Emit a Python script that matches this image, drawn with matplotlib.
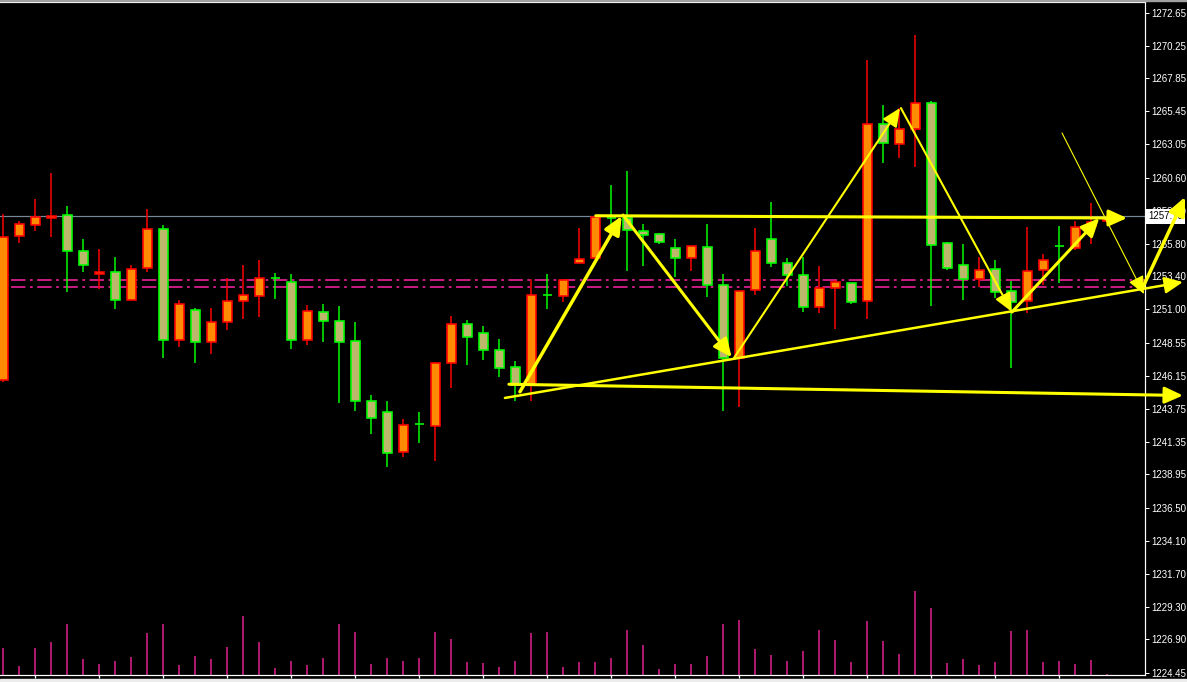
import numpy as np
import matplotlib
matplotlib.use("Agg")
import matplotlib.pyplot as plt
from matplotlib.patches import Rectangle, FancyArrowPatch, ArrowStyle
from matplotlib.transforms import blended_transform_factory

# OHLC (bar index = position from the left)
opens = [1245.85, 1256.33, 1257.13, 1257.64, 1257.86, 1255.23, 1253.55, 1253.70, 1251.66, 1253.99,
         1256.84, 1248.74, 1250.93, 1248.59, 1250.05, 1251.58, 1251.95, 1253.31, 1252.97, 1248.74,
         1250.78, 1250.12, 1248.67, 1244.29, 1243.48, 1240.56, 1242.63, 1242.46, 1247.06, 1249.91,
         1249.25, 1248.01, 1246.77, 1245.45, 1252.02, 1251.95, 1254.36, 1254.72, 1257.64, 1257.64,
         1256.72, 1256.48, 1255.45, 1254.72, 1255.53, 1252.75, 1247.42, 1252.39, 1256.11, 1254.36,
         1253.48, 1251.15, 1252.53, 1252.90, 1251.58, 1264.55, 1263.04, 1264.14, 1266.04, 1255.82,
         1254.21, 1253.19, 1253.92, 1252.31, 1251.58, 1253.85, 1255.64, 1255.45, 1257.06, 1257.45]
highs = [1257.96, 1257.45, 1259.05, 1260.95, 1258.54, 1256.13, 1255.40, 1254.82, 1254.23, 1258.32,
         1257.15, 1251.68, 1251.10, 1251.10, 1253.29, 1254.23, 1254.62, 1253.65, 1253.58, 1251.31,
         1251.39, 1251.24, 1250.07, 1244.75, 1244.31, 1242.99, 1243.50, 1247.15, 1250.53, 1250.22,
         1249.78, 1248.83, 1247.23, 1253.19, 1253.58, 1253.23, 1256.94, 1257.74, 1260.07, 1261.10,
         1257.23, 1256.55, 1256.13, 1255.62, 1257.23, 1253.55, 1252.33, 1256.91, 1258.81, 1254.75,
         1254.84, 1254.16, 1253.14, 1252.92, 1269.20, 1265.91, 1265.67, 1271.02, 1266.20, 1255.91,
         1255.77, 1254.84, 1254.60, 1253.09, 1256.99, 1255.02, 1257.08, 1257.42, 1258.74, 1257.85]
lows = [1245.70, 1255.82, 1256.74, 1256.30, 1252.29, 1253.75, 1252.46, 1251.00, 1251.66, 1253.75,
        1247.47, 1248.27, 1247.10, 1247.76, 1249.51, 1250.31, 1250.46, 1251.77, 1248.12, 1248.42,
        1248.64, 1244.18, 1243.60, 1241.92, 1239.51, 1240.24, 1241.26, 1239.95, 1245.28, 1246.96,
        1247.32, 1246.08, 1244.33, 1244.33, 1251.04, 1251.56, 1254.36, 1254.72, 1256.86, 1253.82,
        1254.18, 1255.75, 1253.38, 1253.82, 1251.88, 1243.58, 1243.89, 1252.07, 1254.11, 1252.72,
        1250.83, 1250.75, 1249.58, 1251.39, 1250.31, 1261.70, 1262.07, 1261.41, 1251.26, 1253.87,
        1251.68, 1252.61, 1251.80, 1246.74, 1250.75, 1252.77, 1252.90, 1255.33, 1255.75, 1257.30]
closes = [1256.26, 1257.20, 1257.72, 1257.83, 1255.23, 1254.21, 1253.70, 1251.66, 1253.92, 1256.84,
          1248.74, 1251.37, 1248.59, 1250.05, 1251.58, 1252.02, 1253.26, 1253.31, 1248.74, 1250.85,
          1250.12, 1248.59, 1244.29, 1243.04, 1240.49, 1242.53, 1242.63, 1247.06, 1249.91, 1248.96,
          1248.01, 1246.69, 1245.45, 1252.02, 1252.02, 1253.12, 1254.65, 1257.72, 1257.64, 1256.77,
          1256.40, 1255.89, 1254.72, 1255.60, 1252.75, 1247.42, 1252.31, 1255.23, 1254.36, 1253.48,
          1251.15, 1252.53, 1253.02, 1251.51, 1264.55, 1263.12, 1264.14, 1266.04, 1255.67, 1253.99,
          1253.19, 1253.85, 1252.24, 1251.51, 1253.77, 1254.58, 1255.64, 1257.00, 1257.35, 1257.70]
volumes = [27, 9, 27, 33, 51, 16, 11, 14, 18, 42, 51, 10, 19, 16, 28, 59, 33, 7, 14, 10,
           17, 51, 43, 11, 17, 14, 17, 43, 36, 13, 12, 8, 14, 42, 43, 8, 13, 13, 17, 45,
           30, 6, 11, 11, 19, 51, 55, 26, 20, 14, 24, 45, 35, 13, 54, 34, 21, 84, 67, 12,
           16, 10, 13, 44, 45, 13, 14, 11, 15, 1]

bid_price = 1257.79
level_lines = [1253.12, 1252.61]

price_ticks = [1272.65, 1270.25, 1267.85, 1265.45, 1263.05, 1260.60, 1258.20, 1255.80, 1253.40,
               1251.00, 1248.55, 1246.15, 1243.75, 1241.35, 1238.95, 1236.50, 1234.10, 1231.70,
               1229.30, 1226.90, 1224.45]
price_labels = ["%.2f" % v for v in price_ticks]

# hand drawn yellow objects: ((bar, price), (bar, price))
trend_lines = [
    ((31.35, 1244.53), (73.73, 1252.99)),
    ((31.60, 1245.53), (73.73, 1244.71)),
    ((37.03, 1257.83), (70.23, 1257.66)),
    ((32.29, 1244.98), (38.65, 1257.81)),
    ((38.73, 1257.88), (45.52, 1247.50)),
    ((45.67, 1247.45), (56.04, 1265.69)),
    ((56.10, 1265.69), (63.02, 1250.83)),
    ((63.04, 1250.80), (68.50, 1257.66)),
    ((66.17, 1263.87), (71.29, 1252.12)),
    ((71.17, 1252.48), (73.86, 1259.20)),
]
line_widths = [1.8, 2.2, 2.2, 2.5, 2.2, 1.5, 1.5, 2.2, 0.8, 2.5]

W, H = 1187, 682
px = 0.72  # one pixel in points at dpi 100

fig = plt.figure(figsize=(W / 100, H / 100), dpi=100, facecolor="black")
rect = [0, (H - 675) / H, 1145 / W, (675 - 1.5) / H]

axv = fig.add_axes(rect)
axv.set_facecolor("black")
ax = fig.add_axes(rect, sharex=axv)
ax.set_facecolor("none")

x = np.arange(len(opens))
o = np.array(opens); c = np.array(closes)
up = c > o
body_col = np.where(up, "#FF8C00", "#BDB76B")
edge_col = np.where(up, "#FF0000", "#00FF00")

# volumes
axv.vlines(x, 0, volumes, color="#E6208F", lw=1.5 * px)
axv.set_ylim(0, 673.5)
axv.axis("off")

# horizontal levels
ax.axhline(bid_price, color="#778899", lw=1.2 * px, zorder=1)
for lv in level_lines:
    ax.axhline(lv, xmin=11 / 1145, color="#DA1F8D", lw=1.3,
               linestyle=(0, (8, 2.5, 1.5, 2.5)), zorder=1)

# candles
ax.vlines(x, lows, highs, colors=edge_col, lw=1.5 * px, zorder=2)
bottoms = np.minimum(o, c)
heights = np.abs(c - o)
ax.bar(x, heights, bottom=bottoms, width=9 / 16, color=body_col,
       edgecolor=edge_col, linewidth=1.6 * px, zorder=3)

ax.set_xlim(-3.3 / 16, (1145 - 3.3) / 16)
ax.set_ylim(1224.307, 1273.468)

# yellow objects
style = ArrowStyle("-|>", head_length=0.55, head_width=0.25)
for (a, b), lw in zip(trend_lines, line_widths):
    arr = FancyArrowPatch(a, b, arrowstyle=style, mutation_scale=20, color="#FFFF00",
                          lw=lw, shrinkA=0, shrinkB=0, clip_on=False, zorder=10)
    ax.add_patch(arr)

# axes look
ax.yaxis.tick_right()
ax.set_yticks(price_ticks)
ax.set_yticklabels(price_labels, fontfamily="Liberation Sans", fontsize=7)
ax.tick_params(axis="y", colors="white", length=4 * px, width=px, pad=2)
ax.set_xticks(np.arange(2, 67, 4))
ax.tick_params(axis="x", colors="white", length=3 * px, width=1.3 * px, labelbottom=False)
ax.spines["left"].set_visible(False)
for s in ["top", "right", "bottom"]:
    ax.spines[s].set_color("white")
    ax.spines[s].set_linewidth(1.2 * px)

# current price label
tr = blended_transform_factory(ax.transAxes, ax.transData)
ax.text(1.0 + 3 / 1145, bid_price, "%.2f" % bid_price, transform=tr, ha="left", va="center",
        fontfamily="Liberation Sans", fontsize=7, color="black", zorder=6,
        bbox=dict(boxstyle="square,pad=0.25", fc="white", ec="none"))

# window strips
fig.patches.append(Rectangle((0, 0), 1, 3.5 / H, transform=fig.transFigure,
                             color="#ECECEC", zorder=0))
fig.patches.append(Rectangle((0, 1 - 1 / H), 1, 1 / H, transform=fig.transFigure,
                             color="#A0A0A0", zorder=0))

fig.savefig("out.png", dpi=100, facecolor="black")
